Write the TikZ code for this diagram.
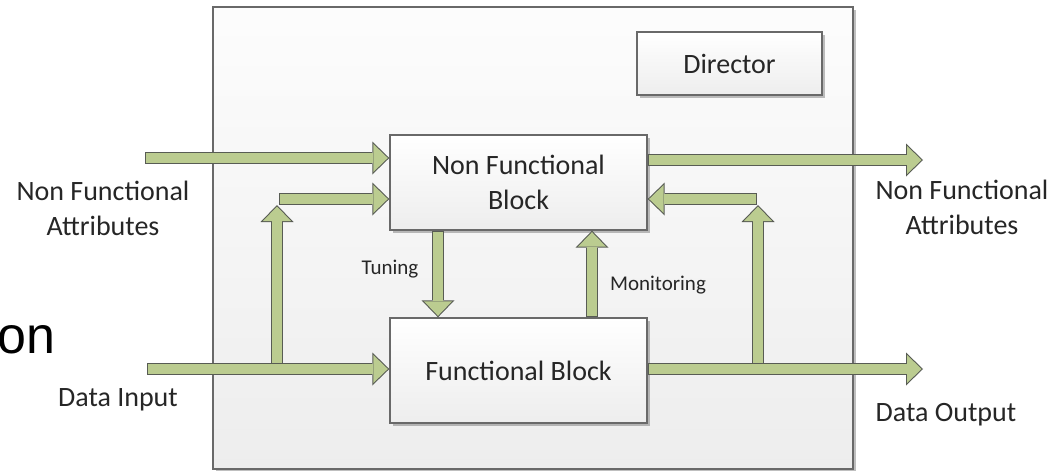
\documentclass[tikz,border=0pt]{standalone}
\usepackage{fontspec}
\setmainfont{Carlito}
\newfontfamily\arialfont{Liberation Sans}
\usetikzlibrary{arrows.meta,shadows}
\definecolor{flowfill}{RGB}{187,204,144}
\definecolor{flowline}{RGB}{88,92,84}
\definecolor{boxline}{RGB}{105,105,105}
\definecolor{textgray}{RGB}{38,38,38}
\tikzset{
  block/.style={draw=boxline, line width=1.4pt, rectangle, inner sep=0pt,
    top color=white, bottom color=black!7,
    drop shadow={shadow xshift=2.5pt, shadow yshift=-2.5pt, fill=black, opacity=.25},
    text=textgray, font=\fontsize{28}{35}\selectfont, align=center},
  flowedge/.style={draw=flowline, line width=12pt, shorten <=0pt, shorten >=0pt,
    -{Triangle[width=33pt,length=17pt,line width=0pt]}},
  flow/.style={draw=flowfill, line width=9.6pt, shorten <=1.2pt, shorten >=1.5pt,
    -{Triangle[width=28pt,length=14.5pt,line width=0pt]}, preaction={flowedge}},
  tag/.style={text=textgray, font=\fontsize{28}{35}\selectfont, align=center, inner sep=0pt},
  note/.style={text=textgray, font=\fontsize{21}{25}\selectfont, inner sep=0pt},
}
\begin{document}
\begin{tikzpicture}[x=1pt,y=-1pt]
    \useasboundingbox (0,0) rectangle (1061,471);
    % container and blocks
    \node[block, top color=black!1, bottom color=black!7, minimum width=640pt, minimum height=462pt] (frame) at (533,238) {};
    \node[block, minimum width=185pt, minimum height=63pt] (director) at (729.5,63.5) {Director};
    \node[block, minimum width=257pt, minimum height=95pt] (nfblock) at (518.5,182.5) {Non Functional\\Block};
    \node[block, minimum width=257pt, minimum height=105pt] (fblock) at (518.5,370.5) {Functional Block};

    % free ends of the flows
    \coordinate (nfa in) at (145,158);
    \coordinate (data in) at (147,369);
    \coordinate (nfa out) at (923,160);
    \coordinate (data out) at (923,369);
    \coordinate (split in) at (277,369);
    \coordinate (lift in) at (277,205);
    \coordinate (turn in) at (279,199);
    \coordinate (split out) at (758,369);
    \coordinate (lift out) at (758,205);
    \coordinate (turn out) at (757,199);
    \coordinate (tune) at (438,0);
    \coordinate (watch) at (592,0);

    % flows
    \draw[flow] (nfa in) -- (nfa in -| nfblock.west);
    \draw[flow] (turn in) -- (turn in -| nfblock.west);
    \draw[flow] (split in) -- (lift in);
    \draw[flow] (data in) -- (data in -| fblock.west);
    \draw[flow] (tune |- nfblock.south) -- (tune |- fblock.north);
    \draw[flow] (watch |- fblock.north) -- (watch |- nfblock.south);
    \draw[flow] (nfa out -| nfblock.east) -- (nfa out);
    \draw[flow] (turn out) -- (turn out -| nfblock.east);
    \draw[flow] (split out) -- (lift out);
    \draw[flow] (data out -| fblock.east) -- (data out);

    % labels
    \node[tag] (nfa left) at (103,208) {Non Functional\\Attributes};
    \node[tag] (nfa right) at (962,207) {Non Functional\\Attributes};
    \node[tag] (input) at (118,400) {Data Input};
    \node[tag] (output) at (946,415) {Data Output};
    \node[note] (tuning) at (390,269) {Tuning};
    \node[note] (monitoring) at (658,285) {Monitoring};
    \node[anchor=base east, inner sep=0pt, font=\arialfont\fontsize{52}{60}\selectfont] (cut) at (56,353) {on};
\end{tikzpicture}
\end{document}
